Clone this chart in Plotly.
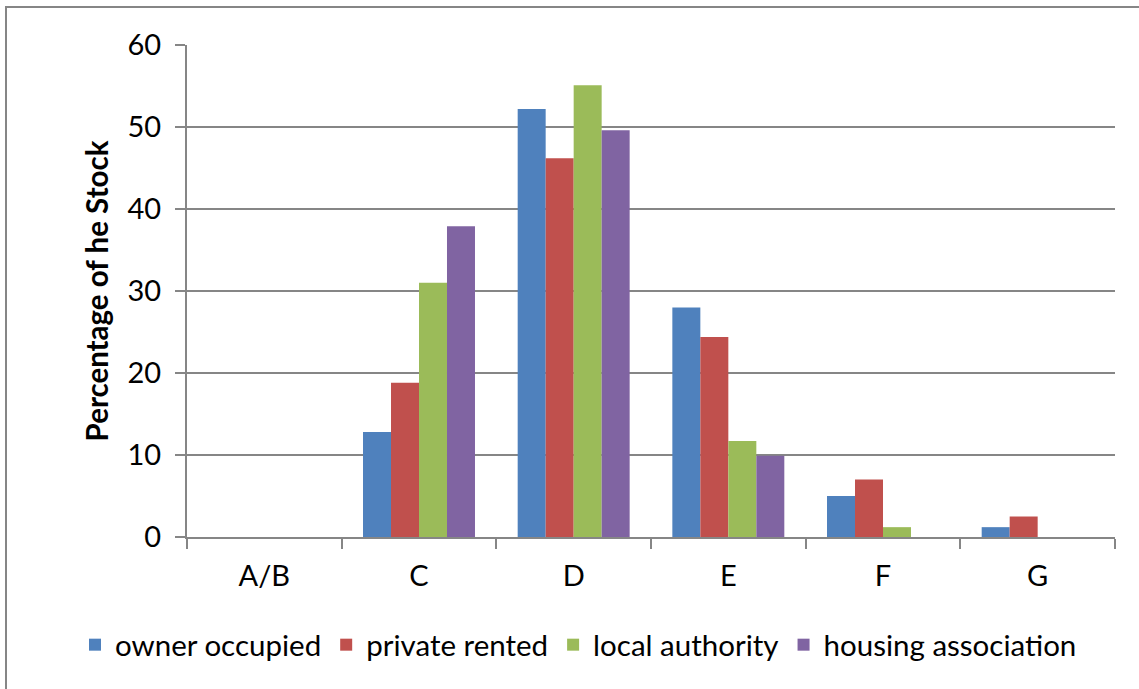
import plotly.graph_objects as go

categories = ["A/B", "C", "D", "E", "F", "G"]
owner_occupied = [0, 12.8, 52.2, 28.0, 5.0, 1.2]
private_rented = [0, 18.8, 46.2, 24.4, 7.0, 2.5]
local_authority = [0, 31.0, 55.1, 11.7, 1.2, 0]
housing_association = [0, 37.9, 49.6, 9.9, 0, 0]
series_names = ["owner occupied", "private rented", "local authority", "housing association"]
colors = ["#4F81BD", "#C0504D", "#9BBB59", "#8064A2"]
y_title = "Percentage of he Stock"

FONT = "Lato"
GREY = "#868686"

fig = go.Figure()
for name, vals, col in zip(series_names,
                           [owner_occupied, private_rented, local_authority, housing_association],
                           colors):
    fig.add_trace(go.Bar(x=categories, y=vals, name=name, marker=dict(color=col, line=dict(width=0))))

L, R, T, B = 187, 24, 45, 152
W, H = 1139, 689
pw, ph = W - L - R, H - T - B

def px_x(x):
    return (x - L) / pw

def px_y(y):
    return (H - B - y) / ph

fig.update_layout(
    width=W, height=H,
    margin=dict(l=L, r=R, t=T, b=B, pad=0, autoexpand=False),
    paper_bgcolor="white", plot_bgcolor="white",
    barmode="group", bargap=0.276, bargroupgap=0,
    font=dict(family=FONT, size=29, color="black"),
    legend=dict(orientation="h", x=px_x(75), xanchor="left", y=px_y(645), yanchor="middle",
                font=dict(family=FONT, size=29.5, color="black"), bgcolor="rgba(0,0,0,0)",
                itemclick=False, traceorder="normal"),
    showlegend=True,
)
fig.update_xaxes(
    type="category", showgrid=False, showline=True, linecolor=GREY, linewidth=2,
    ticks="outside", tickson="boundaries", ticklen=10, tickwidth=2, tickcolor=GREY,
    tickfont=dict(family=FONT, size=29, color="black"), ticklabelstandoff=12,
    zeroline=False,
)
fig.update_yaxes(
    range=[0, 60], dtick=10, showgrid=True, gridcolor=GREY, gridwidth=2,
    showline=True, linecolor=GREY, linewidth=2,
    ticks="outside", ticklen=10, tickwidth=2, tickcolor=GREY,
    tickfont=dict(family=FONT, size=29, color="black"), ticklabelstandoff=8,
    zeroline=False,
    title=dict(text="<b>" + y_title + "</b>", font=dict(family=FONT, size=29.5, color="black"), standoff=10),
)
fig.add_shape(type="rect", xref="paper", yref="paper",
              x0=px_x(6), x1=px_x(1160), y0=px_y(710), y1=px_y(7),
              line=dict(color=GREY, width=2), fillcolor="rgba(0,0,0,0)", layer="below")

fig.write_html("out.html", config={"displayModeBar": False},
               post_script="document.body.style.margin='0px';document.body.style.overflow='hidden';")
